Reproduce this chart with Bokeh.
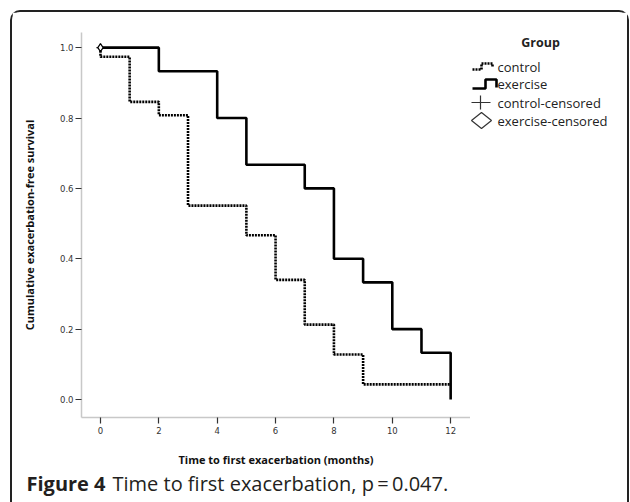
from bokeh.plotting import figure
from bokeh.layouts import column, row
from bokeh.models import FixedTicker, NumeralTickFormatter
from bokeh.core.properties import value
from bokeh.embed import file_html
from bokeh.resources import INLINE

# ---- data ----
control_time = [0, 0, 1, 2, 3, 5, 6, 7, 8, 9, 12]
control_surv = [1.0, 0.974, 0.846, 0.808, 0.551, 0.467, 0.340, 0.213, 0.128, 0.043, 0.043]
exercise_time = [0, 2, 4, 5, 7, 8, 9, 10, 11, 12]
exercise_surv = [1.0, 0.933, 0.800, 0.667, 0.600, 0.400, 0.333, 0.200, 0.133, 0.0]
censor_time = [0]
censor_surv = [1.0]
x_ticks = [0, 2, 4, 6, 8, 10, 12]
y_ticks = [0.0, 0.2, 0.4, 0.6, 0.8, 1.0]
legend_title = "Group"
legend_labels = ["control", "exercise", "control-censored", "exercise-censored"]
x_title = "Time to first exacerbation (months)"
y_title = "Cumulative exacerbation-free survival"
caption_bold = "Figure 4"
caption_rest = "Time to first exacerbation, p\u2009=\u20090.047."

# page layout: rounded frame at x=10, y=10 (2px border) -> contents start at (12, 12)
OX, OY = 12, 12
MAIN_W, MAIN_H = 458, 458          # main chart: page x 12..470, y 12..470
LEG_W = 157                        # legend panel: page x 470..627
CAP_H = 502 - OY - MAIN_H          # caption strip down to the page bottom
FRAME_TOP, FRAME_BOTTOM = 32, 417  # plot frame (the row aligns the legend panel's frame to it)

p = figure(width=MAIN_W, height=MAIN_H, x_range=(-0.65, 12.68), y_range=(-0.051, 1.043),
           min_border_left=81 - OX, min_border_right=OX + MAIN_W - 470,
           min_border_top=FRAME_TOP - OY, min_border_bottom=OY + MAIN_H - FRAME_BOTTOM,
           toolbar_location=None, output_backend="svg")
p.grid.visible = False
p.outline_line_color = None

for ax in (p.xaxis[0], p.yaxis[0]):
    ax.axis_line_color = "#c8c8c8"
    ax.axis_line_width = 1.5
    ax.major_tick_line_color = "#333333"
    ax.major_tick_line_width = 1.2
    ax.major_tick_in = 0
    ax.major_tick_out = 6
    ax.minor_tick_line_color = None
    ax.major_label_text_font = "DejaVu Sans"
    ax.major_label_text_font_size = "8.5px"
    ax.major_label_text_color = "#333333"
    ax.axis_label_text_font = "Open Sans"
    ax.axis_label_text_font_style = "bold"
    ax.axis_label_text_font_size = "11px"
    ax.axis_label_text_color = "#111111"

p.xaxis.ticker = FixedTicker(ticks=x_ticks)
p.yaxis.ticker = FixedTicker(ticks=y_ticks)
p.yaxis.formatter = NumeralTickFormatter(format="0.0")
p.xaxis.axis_label = x_title
p.yaxis.axis_label = y_title
p.xaxis.major_label_standoff = 3
p.yaxis.major_label_standoff = 2
p.xaxis.axis_label_standoff = 15
p.yaxis.axis_label_standoff = 20

p.step(control_time, control_surv, mode="after", line_color="black", line_width=2.6,
       line_dash="2 1")
p.step(exercise_time, exercise_surv, mode="after", line_color="black", line_width=2.6)
p.scatter(censor_time, censor_surv, marker="cross", size=8, line_color="black", line_width=1.2)
p.scatter(censor_time, censor_surv, marker="diamond", size=8, fill_color="white",
          line_color="black", line_width=1.2)

# ---- legend panel (its data space = page pixels; frame aligned to the main frame) ----
lg = figure(width=LEG_W, height=MAIN_H, x_range=(470, 470 + LEG_W),
            y_range=(FRAME_BOTTOM, FRAME_TOP),
            min_border=0, x_axis_location=None, y_axis_location=None,
            toolbar_location=None, output_backend="svg")
lg.grid.visible = False
lg.outline_line_color = None
lg.text(x=[540], y=[42], text=[legend_title], text_font=value("Open Sans"),
        text_font_style="bold", text_font_size="12.5px", text_align="center",
        text_baseline="middle", text_color="#222222")
label_y = [66, 83, 102, 120]
lg.text(x=[497] * 4, y=label_y, text=legend_labels, text_font=value("Open Sans"),
        text_font_size="13px", text_baseline="middle", text_color="#222222")
lg.line([472, 481, 481, 492, 492], [69, 69, 63, 63, 67], line_color="black",
        line_width=2.6, line_dash="2 1")
lg.line([472, 485, 485, 496, 496], [88, 88, 79, 79, 87], line_color="black", line_width=2.6)
lg.segment(x0=[471, 480], y0=[102, 95], x1=[490, 480], y1=[102, 109],
           line_color="#333333", line_width=1.2)
lg.patch([471, 481, 491, 481], [120, 112, 120, 128], fill_alpha=0,
         line_color="#333333", line_width=1.2)

# ---- caption strip ----
cap = figure(width=MAIN_W + LEG_W, height=CAP_H, x_range=(OX, OX + MAIN_W + LEG_W),
             y_range=(OY + MAIN_H + CAP_H, OY + MAIN_H), min_border=0,
             x_axis_location=None, y_axis_location=None,
             toolbar_location=None, output_backend="svg")
cap.grid.visible = False
cap.outline_line_color = None
cap.text(x=[26], y=[483], text=[caption_bold], text_font=value("Open Sans"),
         text_font_style="bold", text_font_size="20px", text_baseline="middle",
         text_color="#231f20")
cap.text(x=[112], y=[483], text=[caption_rest], text_font=value("Open Sans"),
         text_font_size="20px", text_baseline="middle", text_color="#231f20")

layout = column(row(p, lg), cap, margin=(10, 0, 0, 10),
                styles={"border": "2px solid #222222", "border-bottom": "none",
                        "border-radius": "10px 10px 0 0"})

open("out.html", "w").write(file_html(layout, INLINE))
